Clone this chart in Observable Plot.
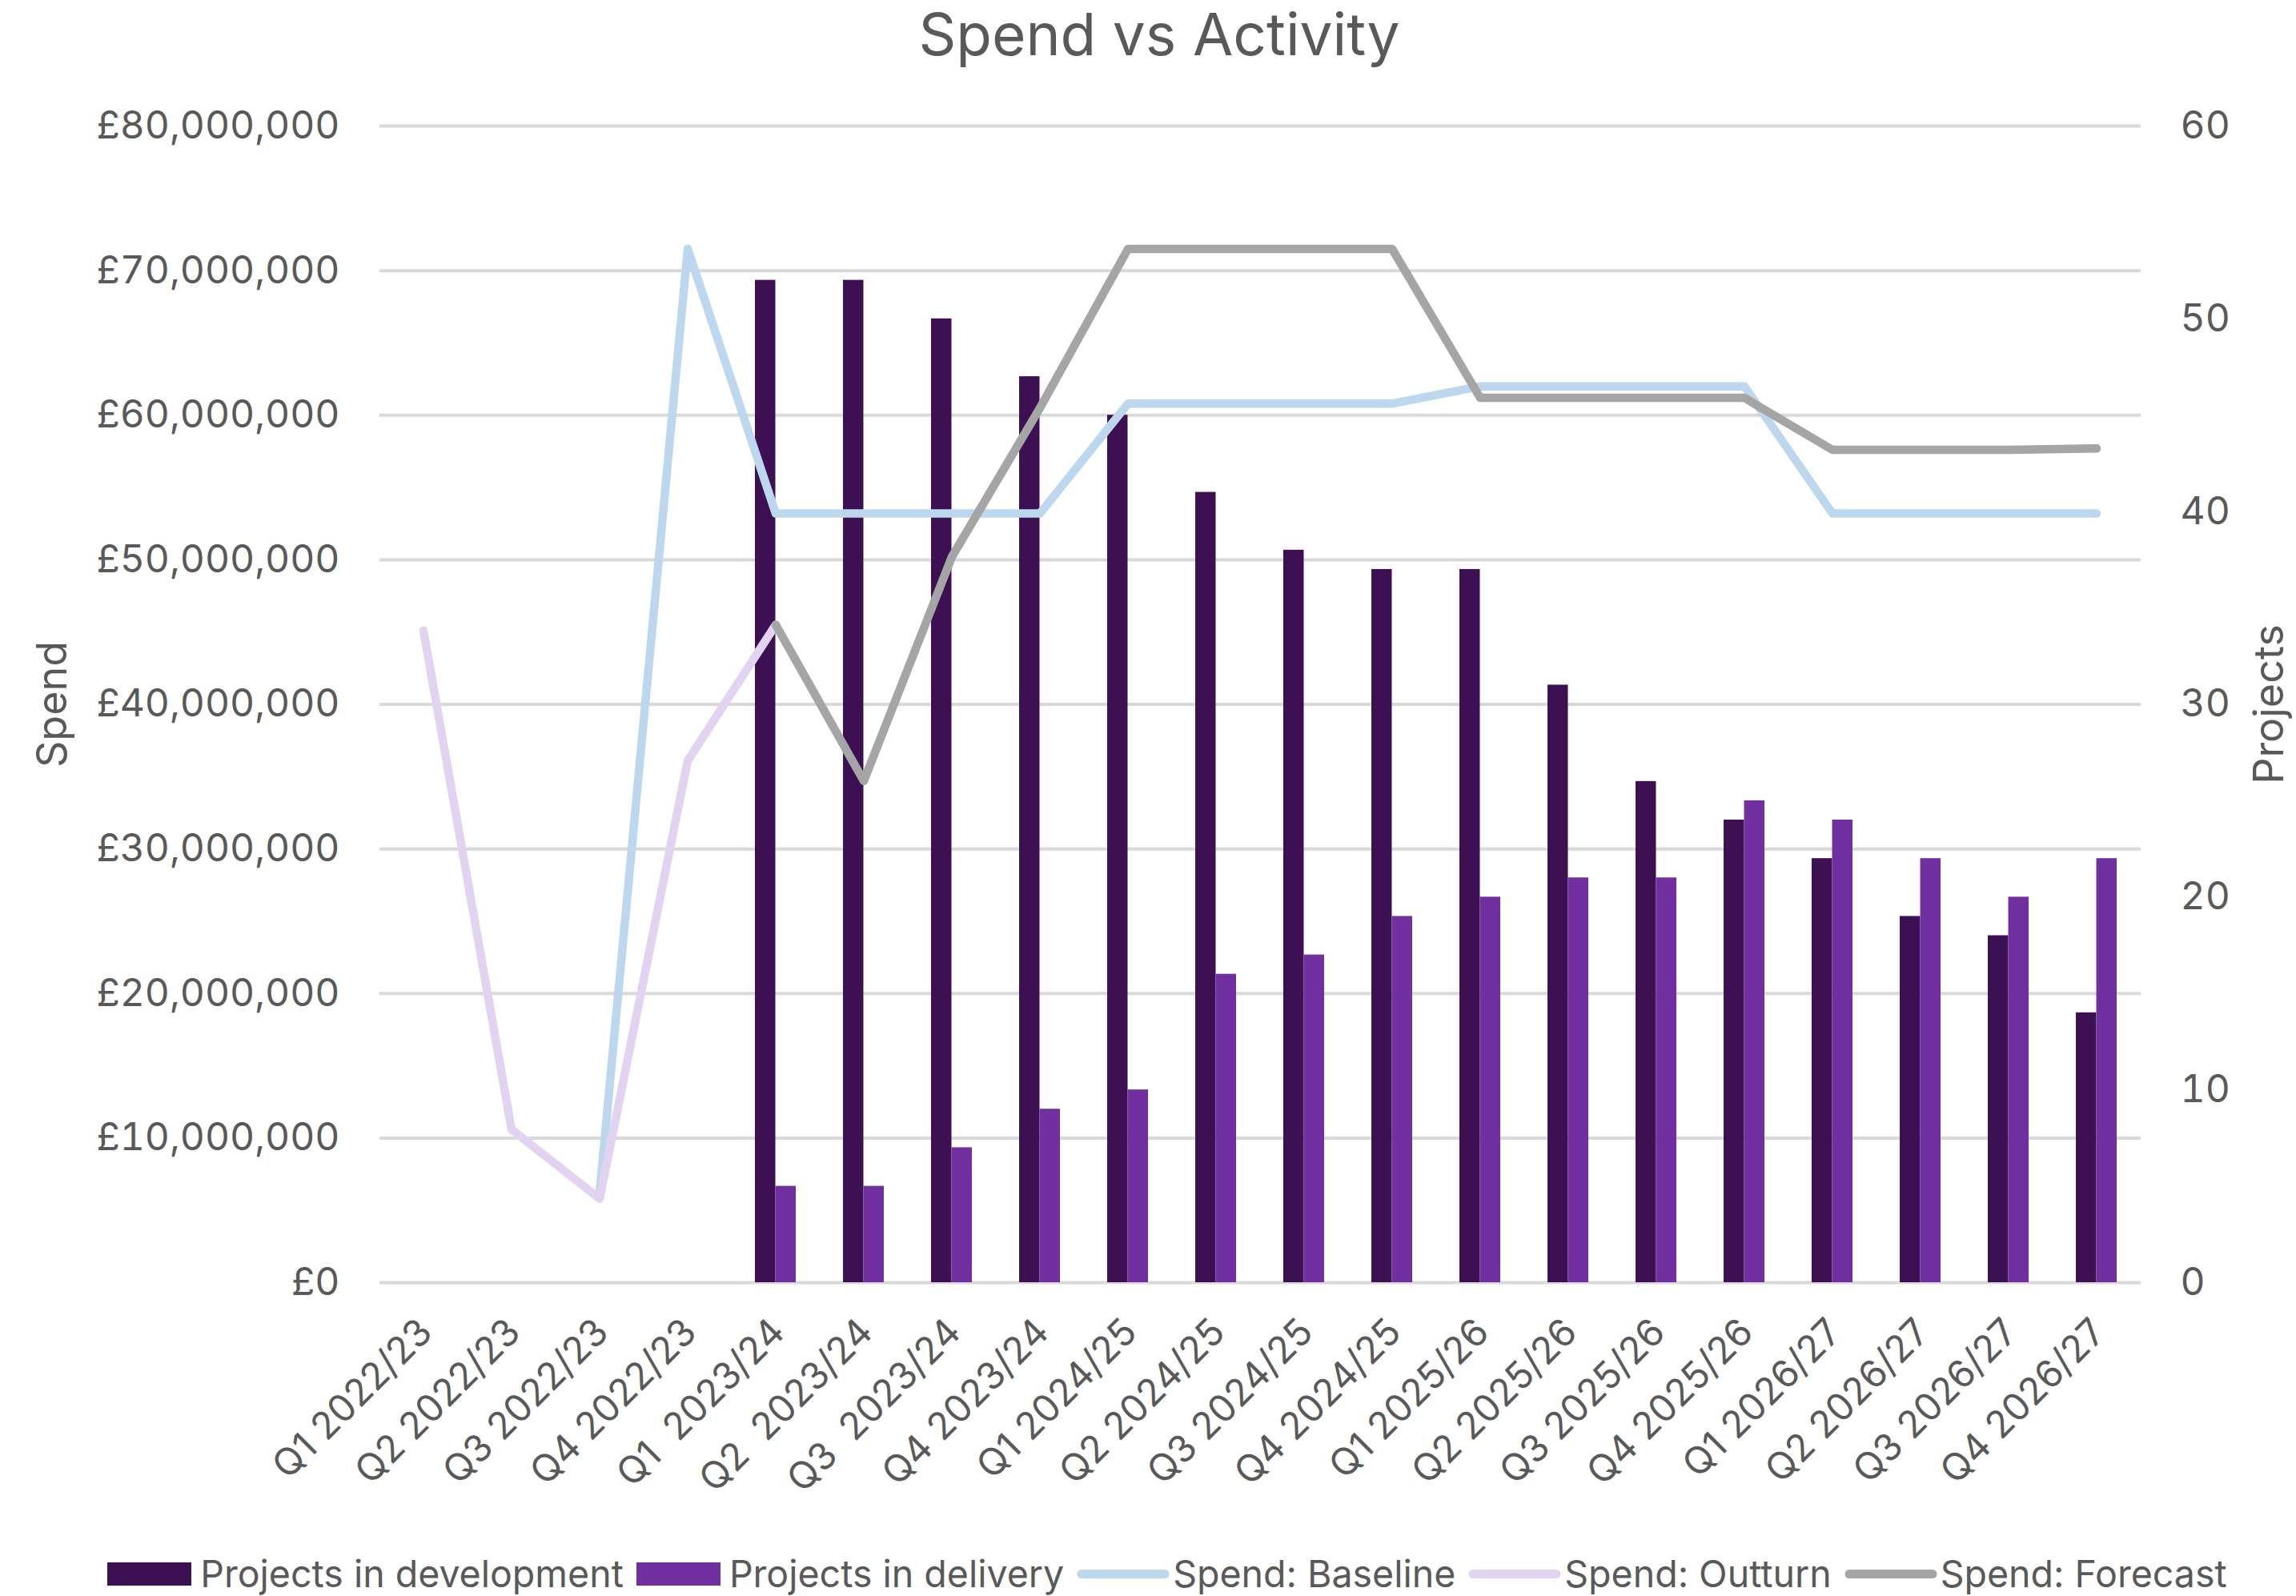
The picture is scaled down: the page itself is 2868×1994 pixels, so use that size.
<!DOCTYPE html>
<html>
<head>
<meta charset="utf-8">
<script src="https://cdn.jsdelivr.net/npm/d3@7"></script>
<script src="https://cdn.jsdelivr.net/npm/@observablehq/plot@0.6"></script>
<style>
  html, body { margin: 0; padding: 0; background: #ffffff; }
  body { width: 2868px; height: 1994px; overflow: hidden; font-family: Inter, "Open Sans", sans-serif; color: #595959; }
  #title { height: 86px; line-height: 86px; font-size: 73px; text-align: center; padding-left: 28px; box-sizing: border-box; white-space: nowrap; }
  #chart svg text { white-space: pre; }
  #legend { display: flex; justify-content: center; align-items: center; height: 56px; padding-top: 18px; padding-left: 48px; font-size: 46.5px; white-space: nowrap; }
  .item { display: flex; align-items: center; margin: 0 8px; }
  .item .lbl { margin-left: 11px; }
  .item.line .lbl { margin-left: 4px; }
</style>
</head>
<body>
<div id="title">Spend vs Activity</div>
<div id="chart"></div>
<div id="legend"></div>
<script>
// ---- data ----
const categories = [
  "Q1 2022/23", "Q2 2022/23", "Q3 2022/23", "Q4 2022/23",
  "Q1  2023/24", "Q2  2023/24", "Q3  2023/24", "Q4 2023/24",
  "Q1 2024/25", "Q2 2024/25", "Q3 2024/25", "Q4 2024/25",
  "Q1 2025/26", "Q2 2025/26", "Q3 2025/26", "Q4 2025/26",
  "Q1 2026/27", "Q2 2026/27", "Q3 2026/27", "Q4 2026/27"
];
// projects (right axis)
const projectsInDevelopment = [null, null, null, null, 52, 52, 50, 47, 45, 41, 38, 37, 37, 31, 26, 24, 22, 19, 18, 14];
const projectsInDelivery    = [null, null, null, null, 5, 5, 7, 9, 10, 16, 17, 19, 20, 21, 21, 25, 24, 22, 20, 22];
// spend in £ millions (left axis)
const spendBaseline = [null, null, 6.2, 71.5, 53.2, 53.2, 53.2, 53.2, 60.8, 60.8, 60.8, 60.8, 62.0, 62.0, 62.0, 62.0, 53.2, 53.2, 53.2, 53.2];
const spendOutturn  = [45.1, 10.6, 5.8, 36.1, 45.5, null, null, null, null, null, null, null, null, null, null, null, null, null, null, null];
const spendForecast = [null, null, null, null, 45.5, 34.7, 50.2, 60.5, 71.5, 71.5, 71.5, 71.5, 61.2, 61.2, 61.2, 61.2, 57.6, 57.6, 57.6, 57.7];
// axis ticks
const spendTicks = [0, 10, 20, 30, 40, 50, 60, 70, 80];     // £ millions
const projectTicks = [0, 10, 20, 30, 40, 50, 60];

// ---- styling ----
const colors = {
  dev: "#3C1053",
  del: "#7030A0",
  base: "#BDD7EE",
  out: "#E2D3F1",
  fc: "#A5A5A5",
  grid: "#D9D9D9",
  text: "#595959"
};

const spendMax = 80e6, projMax = 60;
const k = spendMax / projMax; // maps projects onto the spend scale

const rows = categories.map((c, i) => ({
  c,
  dev: projectsInDevelopment[i],
  del: projectsInDelivery[i],
  base: spendBaseline[i],
  out: spendOutturn[i],
  fc: spendForecast[i]
}));

const width = 2868, height = 1834;
const marginLeft = 474, marginRight = 194, marginTop = 71, marginBottom = 318;
const step = (width - marginLeft - marginRight) / categories.length;
const pInner = 0.536, pOuter = pInner / 2;
const bw = step * (1 - pInner);
const lineW = 10.5;

const lineOpts = (key, color) => Plot.line(rows.filter(d => d[key] != null), {
  x: "c", y: d => d[key] * 1e6, stroke: color, strokeWidth: lineW,
  strokeLinejoin: "round", strokeLinecap: "round"
});

const chart = Plot.plot({
  width, height, marginLeft, marginRight, marginTop, marginBottom,
  style: { fontFamily: "Inter, 'Open Sans', sans-serif", fontSize: "48px", color: colors.text, background: "#ffffff", overflow: "visible" },
  x: { type: "band", domain: categories, paddingInner: pInner, paddingOuter: pOuter, label: null },
  y: { domain: [0, spendMax], label: null },
  marks: [
    Plot.gridY(spendTicks.map(v => v * 1e6), { stroke: colors.grid, strokeOpacity: 1, strokeWidth: 4 }),
    Plot.barY(rows.filter(d => d.dev != null), { x: "c", y: d => d.dev * k, fill: colors.dev, insetRight: bw / 2 }),
    Plot.barY(rows.filter(d => d.del != null), { x: "c", y: d => d.del * k, fill: colors.del, insetLeft: bw / 2 }),
    lineOpts("base", colors.base),
    lineOpts("out", colors.out),
    lineOpts("fc", colors.fc),
    Plot.axisY(spendTicks.map(v => v * 1e6), {
      anchor: "left", tickSize: 0, tickPadding: 50, label: null,
      tickFormat: d => "£" + d3.format(",")(d)
    }),
    Plot.axisY(projectTicks.map(v => v * k), {
      anchor: "right", tickSize: 0, tickPadding: 49, label: null,
      tickFormat: d => String(Math.round(d / k))
    }),
    Plot.axisX({ tickRotate: -45, tickSize: 0, tickPadding: 54, dx: 3, label: null, fontSize: 47 }),
    Plot.text(["Spend"], { frameAnchor: "left", textAnchor: "middle", lineAnchor: "middle", rotate: -90, dx: -408, text: d => d, fontSize: 52 }),
    Plot.text(["Projects"], { frameAnchor: "right", textAnchor: "middle", lineAnchor: "middle", rotate: -90, dx: 161, text: d => d, fontSize: 52 })
  ]
});
document.getElementById("chart").appendChild(chart);

// ---- legend ----
const legendItems = [
  { label: "Projects in development", type: "rect", color: colors.dev },
  { label: "Projects in delivery", type: "rect", color: colors.del },
  { label: "Spend: Baseline", type: "line", color: colors.base },
  { label: "Spend: Outturn", type: "line", color: colors.out },
  { label: "Spend: Forecast", type: "line", color: colors.fc }
];
const legend = document.getElementById("legend");
for (const it of legendItems) {
  const div = document.createElement("div");
  div.className = "item " + it.type;
  const sw = it.type === "rect"
    ? `<svg width="105" height="29"><rect x="0" y="0" width="105" height="29" fill="${it.color}"/></svg>`
    : `<svg width="116" height="29"><line x1="6" y1="14.5" x2="110" y2="14.5" stroke="${it.color}" stroke-width="11" stroke-linecap="round"/></svg>`;
  div.innerHTML = sw + `<span class="lbl">${it.label}</span>`;
  legend.appendChild(div);
}
</script>
</body>
</html>
